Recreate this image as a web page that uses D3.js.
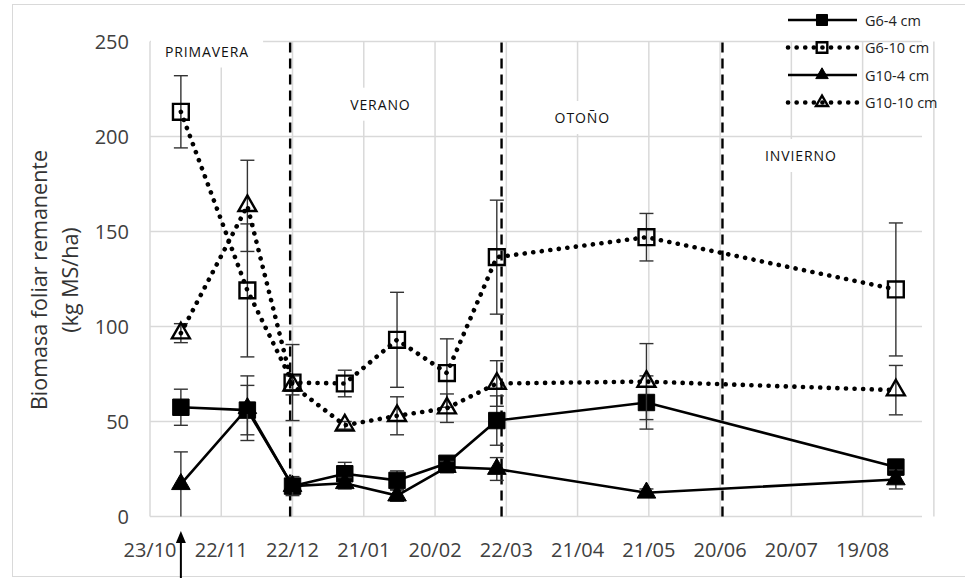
<!DOCTYPE html>
<html>
  <head>
    <meta charset="utf-8">
    <script src="https://d3js.org/d3.v7.min.js"></script>
  </head>
  <style>
    body { margin: 0; background: #fff; }
    svg { font-family: "Open Sans", "Noto Sans", sans-serif; }
  </style>
  <body>
    <svg></svg>
    <script>
// sampling dates (day/month), first year 2013
const dates = ["2013-11-05", "2013-12-03", "2013-12-22", "2014-01-13", "2014-02-04",
               "2014-02-25", "2014-03-18", "2014-05-20", "2014-09-02"];

// G6-4 cm
const g6_4 = [57.5, 56, 16, 22.5, 19, 28, 50.5, 60, 26];
const g6_4Err = [9.5, 13, 4, 6, 5, 3, 13, 14, 4];
// G6-10 cm
const g6_10 = [213, 119, 70.5, 70, 93, 75.5, 136.5, 147, 119.5];
const g6_10Err = [19, 35, 20, 7, 25, 18, 30, 12.5, 35];
// G10-4 cm
const g10_4 = [17, 57, 16, 17.5, 11, 26, 25, 12.5, 19.5];
const g10_4Err = [17, 17, 5, 3, 3, 3, 6, 2, 5];
// G10-10 cm
const g10_10 = [96.5, 163.5, 69, 48, 53, 57, 70, 71, 66.5];
const g10_10Err = [5, 24, 5, 2, 10, 7.5, 12, 20, 13];

const yTicks = [0, 50, 100, 150, 200, 250];
const seasonStarts = ["2013-12-21", "2014-03-20", "2014-06-21"];
const seasonNames = ["PRIMAVERA", "VERANO", "OTOÑO", "INVIERNO"];
const seasonLabelDates = ["2013-11-16", "2014-01-28", "2014-04-23", "2014-07-24"];
const seasonLabelValues = [245, 217, 210, 190];

const parse = d3.timeParse("%Y-%m-%d");
const start = parse("2013-10-23");
const end = d3.timeDay.offset(start, 325);

const svg = d3.select("svg").attr("width", 965).attr("height", 578);

const x = d3.scaleTime().domain([start, end]).range([150, 922]);
const y = d3.scaleLinear().domain([0, 250]).range([516.5, 41.5]);

// chart frame
svg.append("rect")
  .attr("x", 12.5).attr("y", 4.5).attr("width", 965).attr("height", 572)
  .attr("fill", "none").attr("stroke", "#d9d9d9");

const xTicks = d3.range(0, 12).map(i => d3.timeDay.offset(start, i * 30));

// gridlines
const grid = svg.append("g").attr("stroke", "#d9d9d9").attr("stroke-width", 1.5);
grid.selectAll(".hg").data(yTicks).enter().append("line")
  .attr("x1", x(start)).attr("x2", x(end))
  .attr("y1", d => y(d)).attr("y2", d => y(d));
grid.selectAll(".vg").data(xTicks).enter().append("line")
  .attr("x1", d => x(d)).attr("x2", d => x(d))
  .attr("y1", y(0)).attr("y2", y(250));

// y tick labels
svg.append("g").selectAll("text").data(yTicks).enter().append("text")
  .attr("x", 129).attr("y", d => y(d))
  .attr("dominant-baseline", "central")
  .attr("text-anchor", "end")
  .attr("font-size", 20).attr("fill", "#404040")
  .text(d => d);

// x tick labels
const fmt = d3.timeFormat("%d/%m");
svg.append("g").selectAll("text").data(xTicks.slice(0, 11)).enter().append("text")
  .attr("x", d => x(d)).attr("y", 549)
  .attr("dominant-baseline", "central")
  .attr("text-anchor", "middle")
  .attr("font-size", 20).attr("fill", "#404040")
  .text(d => fmt(d));

// y axis title
const yt = svg.append("text")
  .attr("transform", "translate(38,280) rotate(-90)")
  .attr("text-anchor", "middle")
  .attr("font-size", 21.5).attr("fill", "#333");
yt.append("tspan").attr("x", 0).attr("y", 0).attr("dominant-baseline", "central").text("Biomasa foliar remanente");
yt.append("tspan").attr("x", 0).attr("y", 31).attr("dominant-baseline", "central").text("(kg MS/ha)");

// season boundaries
svg.append("g").selectAll("line").data(seasonStarts).enter().append("line")
  .attr("x1", d => x(parse(d))).attr("x2", d => x(parse(d)))
  .attr("y1", y(0)).attr("y2", y(250))
  .attr("stroke", "#000").attr("stroke-width", 2.4)
  .attr("stroke-dasharray", "10 6");

// season labels with white boxes
const sl = svg.append("g").selectAll("g").data(seasonNames).enter().append("g")
  .attr("transform", (d, i) => `translate(${x(parse(seasonLabelDates[i]))},${y(seasonLabelValues[i])})`);
sl.append("rect").attr("fill", "#fff");
sl.append("text")
  .attr("text-anchor", "middle").attr("dominant-baseline", "central")
  .attr("font-size", 14).attr("letter-spacing", 0.9).attr("fill", "#111")
  .text(d => d);
sl.each(function () {
  const b = d3.select(this).select("text").node().getBBox();
  d3.select(this).select("rect")
    .attr("x", b.x - 14).attr("y", b.y - 7)
    .attr("width", b.width + 28).attr("height", b.height + 14);
});

const series = [
  { name: "G6-4 cm", vals: g6_4, err: g6_4Err, shape: d3.symbolSquare, size: 270, filled: true, dotted: false },
  { name: "G6-10 cm", vals: g6_10, err: g6_10Err, shape: d3.symbolSquare, size: 250, filled: false, dotted: true },
  { name: "G10-4 cm", vals: g10_4, err: g10_4Err, shape: d3.symbolTriangle, size: 150, filled: true, dotted: false },
  { name: "G10-10 cm", vals: g10_10, err: g10_10Err, shape: d3.symbolTriangle, size: 140, filled: false, dotted: true }
];

const line = d3.line().x(d => x(parse(d.date))).y(d => y(d.v));

function styleLine(sel, s) {
  sel.attr("fill", "none").attr("stroke", "#000");
  if (s.dotted) {
    sel.attr("stroke-width", 4.6).attr("stroke-linecap", "round").attr("stroke-dasharray", "0.1 8.5");
  } else {
    sel.attr("stroke-width", 2.6);
  }
}
function styleMarker(sel, s) {
  sel.attr("fill", s.filled ? "#000" : "none")
     .attr("stroke", "#000").attr("stroke-width", s.filled ? 1 : 2.4);
}

series.forEach(s => {
  const pts = dates.map((d, i) => ({ date: d, v: s.vals[i], e: s.err[i] }));
  const g = svg.append("g");
  // error bars
  const eb = g.selectAll(".eb").data(pts).enter().append("g")
    .attr("stroke", "#333").attr("stroke-width", 1.4);
  eb.append("line")
    .attr("x1", d => x(parse(d.date))).attr("x2", d => x(parse(d.date)))
    .attr("y1", d => y(d.v + d.e)).attr("y2", d => y(Math.max(0, d.v - d.e)));
  eb.append("line")
    .attr("x1", d => x(parse(d.date)) - 7).attr("x2", d => x(parse(d.date)) + 7)
    .attr("y1", d => y(d.v + d.e)).attr("y2", d => y(d.v + d.e));
  eb.filter(d => d.v - d.e > 0).append("line")
    .attr("x1", d => x(parse(d.date)) - 7).attr("x2", d => x(parse(d.date)) + 7)
    .attr("y1", d => y(d.v - d.e)).attr("y2", d => y(d.v - d.e));
  styleLine(g.append("path").attr("d", line(pts)), s);
  styleMarker(g.selectAll(".m").data(pts).enter().append("path")
    .attr("d", d3.symbol().type(s.shape).size(s.size))
    .attr("transform", d => `translate(${x(parse(d.date))},${y(d.v)})`), s);
});

// legend
const lg = svg.append("g").selectAll("g").data(series).enter().append("g")
  .attr("transform", (d, i) => `translate(0,${20 + i * 27.5})`);
lg.each(function (s) {
  const g = d3.select(this);
  styleLine(g.append("line").attr("x1", 788).attr("x2", 857).attr("y1", 0).attr("y2", 0), s);
  styleMarker(g.append("path").attr("d", d3.symbol().type(s.shape).size(s.size * 0.45))
    .attr("transform", "translate(822,0)"), s);
  g.append("text").attr("x", 865).attr("y", 0)
    .attr("dominant-baseline", "central").attr("font-size", 14.5).attr("fill", "#222")
    .text(s.name);
});

// arrow under first sampling date
const ax = x(parse(dates[0]));
svg.append("line").attr("x1", ax).attr("x2", ax).attr("y1", 578).attr("y2", 540)
  .attr("stroke", "#000").attr("stroke-width", 2);
svg.append("path")
  .attr("d", `M${ax},531 L${ax - 5},543 L${ax + 5},543 Z`)
  .attr("fill", "#000");
    </script>
  </body>
</html>
